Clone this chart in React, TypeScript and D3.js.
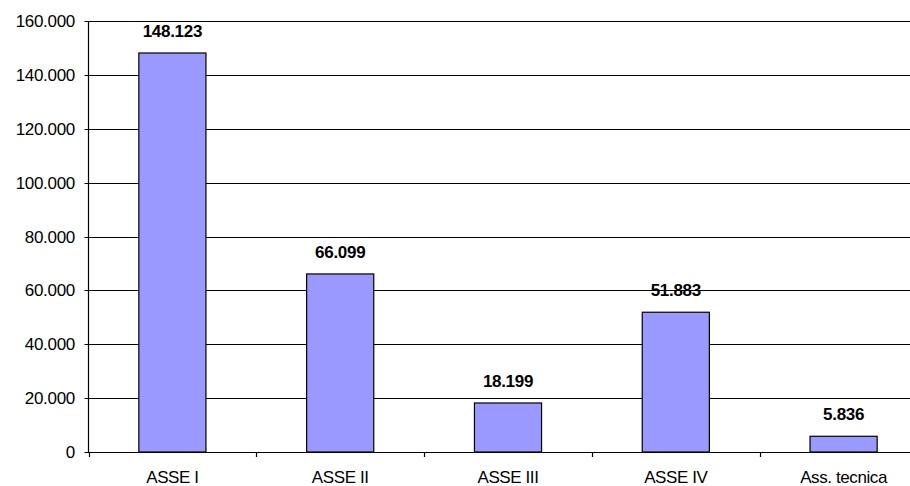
import React from "react";
import * as d3 from "d3";

const categories = ["ASSE I", "ASSE II", "ASSE III", "ASSE IV", "Ass. tecnica"];
const values = [148123, 66099, 18199, 51883, 5836];
const yTicks = [0, 20000, 40000, 60000, 80000, 100000, 120000, 140000, 160000];

const fmt = (v: number) => {
  if (v === 0) return "0";
  const s = Math.round(v).toString();
  return s.replace(/\B(?=(\d{3})+(?!\d))/g, ".");
};

export default function App() {
  const W = 910, H = 486;
  const left = 88.5, right = 927.5, top = 21, bottom = 452;
  const x = d3.scaleBand<string>().domain(categories).range([left, right]).paddingInner(0).paddingOuter(0);
  const y = d3.scaleLinear().domain([0, 160000]).range([bottom, top]);
  const bw = x.bandwidth() * 0.4;
  const font = "Arial, 'Liberation Sans', sans-serif";
  return (
    <svg width={W} height={H} style={{ position: "absolute", left: 0, top: 0, background: "#fff" }}>
      {yTicks.map((t) => (
        <g key={t}>
          <line x1={left - 4} x2={W} y1={Math.round(y(t)) + 0.5} y2={Math.round(y(t)) + 0.5} stroke="#000" strokeWidth={1.2} />
          <text x={75} y={y(t)} dy="0.36em" textAnchor="end" fontFamily={font} fontSize={17} fill="#000" letterSpacing={-0.3}>{fmt(t)}</text>
        </g>
      ))}
      <line x1={left} x2={left} y1={top} y2={bottom} stroke="#000" strokeWidth={1.2} />
      {categories.map((c, i) => {
        const x0 = x(c)!;
        const cx = x0 + x.bandwidth() / 2;
        const v = values[i];
        return (
          <g key={c}>
            <line x1={Math.round(x0) + 0.5} x2={Math.round(x0) + 0.5} y1={bottom} y2={bottom + 5} stroke="#000" strokeWidth={1.2} />
            <rect x={cx - bw / 2} y={y(v)} width={bw} height={bottom - y(v)} fill="#9999FF" stroke="#000" strokeWidth={1.2} />
            <text x={cx} y={y(v) - 16} textAnchor="middle" fontFamily={font} fontSize={17} fontWeight="bold" fill="#000" letterSpacing={-0.3}>{fmt(v)}</text>
            <text x={cx} y={483} textAnchor="middle" fontFamily={font} fontSize={17} fill="#000" letterSpacing={-0.4}>{c}</text>
          </g>
        );
      })}
    </svg>
  );
}
